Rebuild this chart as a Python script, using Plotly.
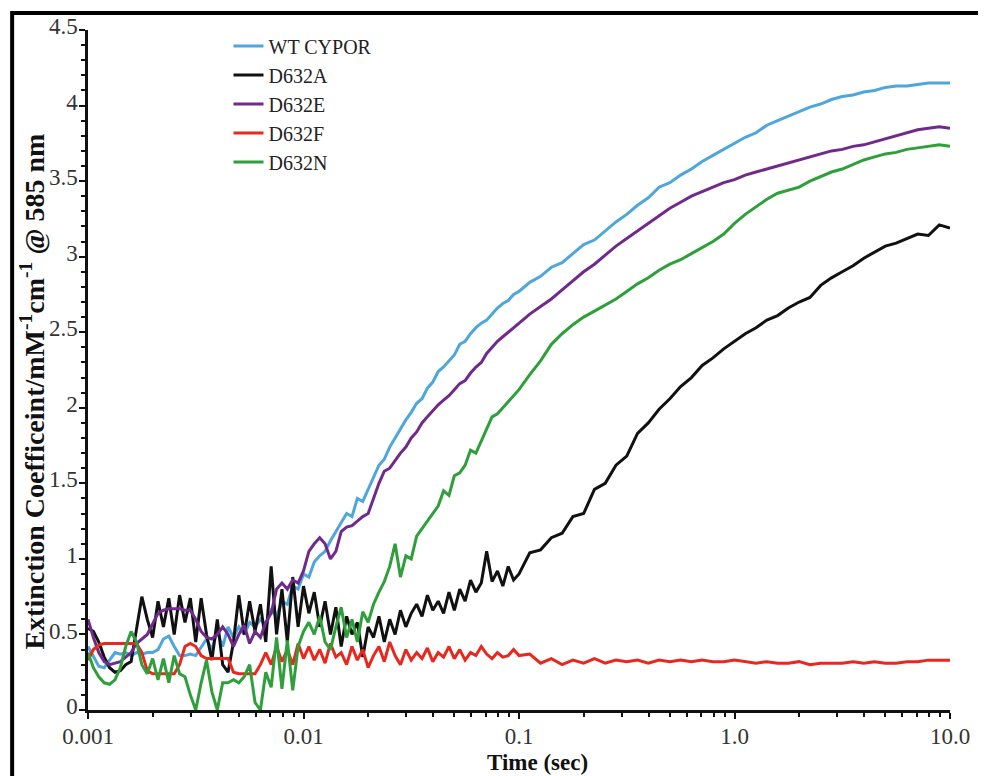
import plotly.graph_objects as go

# Time grid (s): 40 pts/decade for 0.001-0.1, 20 pts/decade for 0.1-10
time_s = [
    0.001, 0.001059, 0.001122, 0.001189, 0.001259, 0.001334, 0.001413, 0.001496, 0.001585, 0.001679,
    0.001778, 0.001884, 0.001995, 0.002113, 0.002239, 0.002371, 0.002512, 0.002661, 0.002818, 0.002985,
    0.003162, 0.00335, 0.003548, 0.003758, 0.003981, 0.004217, 0.004467, 0.004732, 0.005012, 0.005309,
    0.005623, 0.005957, 0.00631, 0.006683, 0.007079, 0.007499, 0.007943, 0.008414, 0.008913, 0.009441,
    0.01, 0.01059, 0.01122, 0.01189, 0.01259, 0.01334, 0.01413, 0.01496, 0.01585, 0.01679,
    0.01778, 0.01884, 0.01995, 0.02113, 0.02239, 0.02371, 0.02512, 0.02661, 0.02818, 0.02985,
    0.03162, 0.0335, 0.03548, 0.03758, 0.03981, 0.04217, 0.04467, 0.04732, 0.05012, 0.05309,
    0.05623, 0.05957, 0.0631, 0.06683, 0.07079, 0.07499, 0.07943, 0.08414, 0.08913, 0.09441,
    0.1, 0.1122, 0.1259, 0.1413, 0.1585, 0.1778, 0.1995, 0.2239, 0.2512, 0.2818,
    0.3162, 0.3548, 0.3981, 0.4467, 0.5012, 0.5623, 0.631, 0.7079, 0.7943, 0.8913,
    1.0, 1.122, 1.259, 1.413, 1.585, 1.778, 1.995, 2.239, 2.512, 2.818,
    3.162, 3.548, 3.981, 4.467, 5.012, 5.623, 6.31, 7.079, 7.943, 8.913,
    10.0,
]

wt_cypor = [
    0.42, 0.36, 0.29, 0.28, 0.33, 0.38, 0.37, 0.38, 0.36, 0.38,
    0.37, 0.38, 0.38, 0.40, 0.47, 0.49, 0.42, 0.36, 0.36, 0.37,
    0.36, 0.42, 0.47, 0.40, 0.52, 0.42, 0.55, 0.48, 0.55, 0.50,
    0.58, 0.55, 0.60, 0.56, 0.66, 0.62, 0.72, 0.70, 0.82, 0.80,
    0.90, 0.88, 0.98, 1.02, 1.05, 1.12, 1.18, 1.24, 1.30, 1.28,
    1.40, 1.38, 1.46, 1.55, 1.62, 1.66, 1.74, 1.80, 1.86, 1.92,
    1.97, 2.03, 2.06, 2.13, 2.17, 2.24, 2.27, 2.31, 2.35, 2.42,
    2.44, 2.49, 2.53, 2.56, 2.58, 2.62, 2.66, 2.69, 2.71, 2.75,
    2.77, 2.83, 2.87, 2.93, 2.96, 3.02, 3.08, 3.11, 3.17, 3.23,
    3.28, 3.34, 3.39, 3.46, 3.49, 3.54, 3.58, 3.63, 3.67, 3.71,
    3.75, 3.79, 3.82, 3.87, 3.90, 3.93, 3.96, 3.99, 4.01, 4.04,
    4.06, 4.07, 4.09, 4.10, 4.12, 4.13, 4.13, 4.14, 4.15, 4.15,
    4.15,
]

d632a = [
    0.54, 0.52, 0.45, 0.35, 0.28, 0.25, 0.26, 0.30, 0.32, 0.55,
    0.75, 0.60, 0.48, 0.72, 0.55, 0.74, 0.50, 0.76, 0.58, 0.74,
    0.45, 0.74, 0.50, 0.33, 0.60, 0.30, 0.25, 0.45, 0.76, 0.50,
    0.72, 0.52, 0.70, 0.45, 0.95, 0.50, 0.80, 0.45, 0.88, 0.55,
    0.82, 0.64, 0.78, 0.55, 0.72, 0.50, 0.68, 0.42, 0.62, 0.50,
    0.58, 0.35, 0.55, 0.48, 0.62, 0.45, 0.60, 0.50, 0.66, 0.55,
    0.64, 0.70, 0.62, 0.76, 0.66, 0.72, 0.64, 0.78, 0.66, 0.80,
    0.72, 0.86, 0.78, 0.84, 1.05, 0.85, 0.92, 0.82, 0.95, 0.86,
    0.90, 1.04, 1.06, 1.14, 1.17, 1.28, 1.30, 1.46, 1.50, 1.62,
    1.68, 1.83, 1.90, 1.99, 2.06, 2.14, 2.20, 2.28, 2.33, 2.39,
    2.44, 2.49, 2.53, 2.58, 2.61, 2.66, 2.70, 2.73, 2.81, 2.86,
    2.90, 2.94, 2.99, 3.03, 3.07, 3.09, 3.12, 3.15, 3.14, 3.21,
    3.19,
]

d632e = [
    0.60, 0.48, 0.38, 0.32, 0.30, 0.31, 0.32, 0.35, 0.38, 0.44,
    0.47, 0.50, 0.57, 0.64, 0.66, 0.67, 0.67, 0.67, 0.66, 0.66,
    0.60, 0.52, 0.48, 0.47, 0.50, 0.55, 0.50, 0.42, 0.50, 0.56,
    0.44, 0.52, 0.48, 0.58, 0.64, 0.80, 0.84, 0.80, 0.86, 0.84,
    0.92, 1.05, 1.10, 1.14, 1.10, 1.00, 1.05, 1.18, 1.21, 1.22,
    1.25, 1.28, 1.30, 1.40, 1.50, 1.58, 1.60, 1.65, 1.70, 1.74,
    1.80, 1.84, 1.90, 1.94, 1.98, 2.02, 2.05, 2.08, 2.12, 2.16,
    2.18, 2.23, 2.27, 2.30, 2.36, 2.40, 2.44, 2.47, 2.50, 2.53,
    2.56, 2.62, 2.67, 2.72, 2.78, 2.84, 2.90, 2.95, 3.01, 3.07,
    3.12, 3.17, 3.22, 3.27, 3.32, 3.36, 3.40, 3.43, 3.46, 3.49,
    3.51, 3.54, 3.56, 3.58, 3.60, 3.62, 3.64, 3.66, 3.68, 3.70,
    3.71, 3.73, 3.74, 3.76, 3.78, 3.80, 3.82, 3.84, 3.85, 3.86,
    3.85,
]

d632f = [
    0.33, 0.40, 0.43, 0.44, 0.44, 0.44, 0.44, 0.44, 0.44, 0.44,
    0.38, 0.26, 0.24, 0.24, 0.24, 0.24, 0.24, 0.30, 0.42, 0.44,
    0.42, 0.36, 0.34, 0.34, 0.34, 0.34, 0.34, 0.25, 0.24, 0.24,
    0.24, 0.24, 0.30, 0.38, 0.30, 0.42, 0.32, 0.40, 0.30, 0.44,
    0.34, 0.42, 0.33, 0.40, 0.31, 0.44, 0.35, 0.38, 0.30, 0.42,
    0.33, 0.40, 0.28, 0.36, 0.42, 0.32, 0.45, 0.36, 0.30, 0.40,
    0.33, 0.38, 0.34, 0.41, 0.32, 0.38, 0.35, 0.42, 0.34, 0.40,
    0.33, 0.38, 0.36, 0.42, 0.37, 0.34, 0.38, 0.35, 0.36, 0.40,
    0.36, 0.37, 0.31, 0.34, 0.30, 0.33, 0.31, 0.34, 0.31, 0.33,
    0.32, 0.33, 0.31, 0.33, 0.32, 0.33, 0.32, 0.33, 0.32, 0.32,
    0.33, 0.32, 0.31, 0.32, 0.31, 0.31, 0.32, 0.30, 0.31, 0.31,
    0.31, 0.32, 0.31, 0.32, 0.31, 0.31, 0.32, 0.32, 0.33, 0.33,
    0.33,
]

d632n = [
    0.38, 0.28, 0.22, 0.18, 0.17, 0.20, 0.28, 0.42, 0.52, 0.45,
    0.30, 0.24, 0.34, 0.20, 0.34, 0.18, 0.36, 0.24, 0.22, 0.10,
    0.00, 0.18, 0.33, 0.12, 0.00, 0.18, 0.18, 0.20, 0.18, 0.22,
    0.30, 0.05, 0.00, 0.25, 0.15, 0.48, 0.14, 0.46, 0.13, 0.42,
    0.52, 0.58, 0.50, 0.62, 0.45, 0.40, 0.55, 0.68, 0.48, 0.60,
    0.45, 0.65, 0.58, 0.70, 0.78, 0.85, 0.95, 1.10, 0.88, 1.02,
    1.00, 1.15, 1.20, 1.25, 1.30, 1.35, 1.45, 1.42, 1.55, 1.57,
    1.62, 1.72, 1.70, 1.78, 1.85, 1.94, 1.96, 2.00, 2.04, 2.08,
    2.12, 2.22, 2.31, 2.42, 2.49, 2.55, 2.60, 2.64, 2.68, 2.72,
    2.77, 2.82, 2.86, 2.91, 2.95, 2.98, 3.02, 3.06, 3.10, 3.15,
    3.22, 3.28, 3.33, 3.38, 3.42, 3.44, 3.46, 3.50, 3.53, 3.56,
    3.58, 3.61, 3.64, 3.66, 3.68, 3.69, 3.71, 3.72, 3.73, 3.74,
    3.73,
]

series_names = ["WT CYPOR", "D632A", "D632E", "D632F", "D632N"]
series_values = [wt_cypor, d632a, d632e, d632f, d632n]
series_colors = ["#4ea6dc", "#111111", "#702a8c", "#e8281e", "#2e9f3a"]

x_tick_vals = [0.001, 0.01, 0.1, 1, 10]
x_tick_text = ["0.001", "0.01", "0.1", "1.0", "10.0"]

FONT = "Liberation Serif, Times New Roman, serif"

fig = go.Figure()
for name, vals, col in zip(series_names, series_values, series_colors):
    fig.add_trace(go.Scatter(
        x=time_s, y=vals, mode="lines", name=name,
        line=dict(color=col, width=3),
    ))

minor_x = [m * 10 ** e for e in (-3, -2, -1, 0) for m in range(2, 10)]

fig.update_layout(
    width=978, height=768,
    margin=dict(l=80, r=36, t=22, b=66),
    paper_bgcolor="white", plot_bgcolor="white",
    font=dict(family=FONT, size=20, color="#222"),
    showlegend=True,
    legend=dict(
        x=0.163, y=1.005, xanchor="left", yanchor="top",
        bgcolor="rgba(0,0,0,0)", font=dict(family=FONT, size=20, color="#222"),
        tracegroupgap=0, itemwidth=30,
    ),
    xaxis=dict(
        type="log", range=[-3, 1], showgrid=False, zeroline=False, automargin=False,
        showline=True, linecolor="#111", linewidth=2.5,
        ticks="outside", ticklen=6, tickwidth=2, tickcolor="#111",
        tickvals=x_tick_vals, ticktext=x_tick_text, ticklabelstandoff=-2,
        tickfont=dict(family=FONT, size=23, color="#333"),
        minor=dict(tickvals=minor_x, ticks="outside", ticklen=4, tickwidth=2, tickcolor="#111"),
    ),
    yaxis=dict(
        range=[0, 4.5], showgrid=False, zeroline=False, automargin=False,
        showline=True, linecolor="#111", linewidth=2.5,
        ticks="outside", ticklen=6, tickwidth=2, tickcolor="#111",
        tick0=0, dtick=0.5, ticklabelstandoff=-3, ticklabelshift=-4,
        tickfont=dict(family=FONT, size=23, color="#333"),
        minor=dict(dtick=0.1, ticks="outside", ticklen=4, tickwidth=2, tickcolor="#111"),
    ),
)

# axis titles
fig.add_annotation(
    text="<b>Extinction Coefficeint/mM<sup>-1</sup>cm<sup>-1</sup> @ 585 nm</b>",
    xref="paper", yref="paper", x=-0.064, y=0.468, xanchor="center", yanchor="middle",
    textangle=-90, showarrow=False, font=dict(family=FONT, size=28, color="#111"),
)
fig.add_annotation(
    text="<b>Time (sec)</b>",
    xref="paper", yref="paper", x=0.522, y=-0.0765, xanchor="center", yanchor="middle",
    showarrow=False, font=dict(family=FONT, size=23, color="#111"),
)

# black frame around the figure
fig.add_shape(type="rect", xref="paper", yref="paper",
              x0=-0.088, x1=1.037, y0=-0.11, y1=1.025,
              line=dict(color="black", width=4), fillcolor="rgba(0,0,0,0)")

fig.write_html("out.html")
